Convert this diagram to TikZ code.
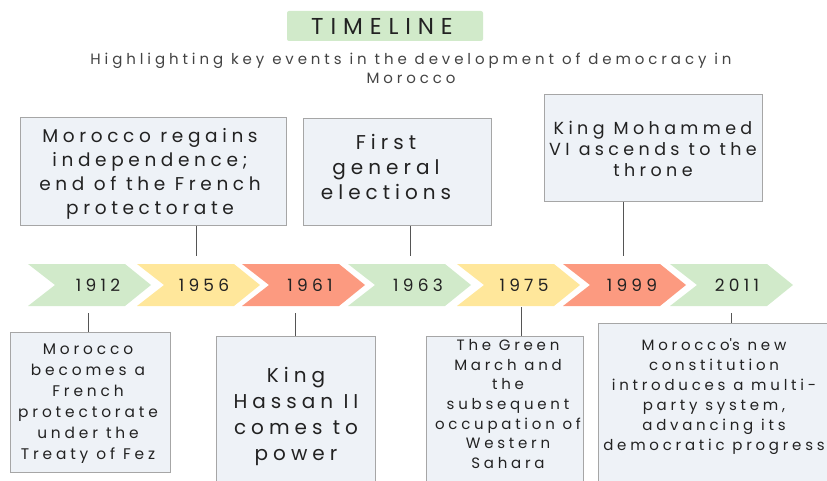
\documentclass[tikz,border=0pt]{standalone}
\usepackage{fontspec}
\setmainfont{Poppins}[LetterSpace=25]
\definecolor{cgreen}{HTML}{D1EACA}
\definecolor{cyellow}{HTML}{FFE79B}
\definecolor{csalmon}{HTML}{FC9A80}
\definecolor{boxfill}{HTML}{EEF2F7}
\definecolor{boxline}{HTML}{A6A6A6}
\definecolor{ink}{HTML}{222222}
\definecolor{connc}{HTML}{555555}
\newcommand\chevron[2]{\fill[#2] (#1,264) -- ++(97,0) -- ++(26,21) -- ++(-26,21) -- ++(-97,0) -- ++(27,-21) -- cycle;}
\newcommand\fs[2]{\fontsize{#1}{#2}\selectfont}
\begin{document}
\begin{tikzpicture}[x=1pt,y=-1pt,
  eventbox/.style={draw=boxline, fill=boxfill, line width=0.8pt, inner sep=0pt, anchor=north west},
  txt/.style={align=center, text=ink, inner sep=0pt},
  conn/.style={draw=connc, line width=0.9pt},
  yr/.style={text=ink, inner sep=0pt, font=\fs{17}{20}}]
\useasboundingbox (0,0) rectangle (827,481);
\clip (0,0) rectangle (827,481);
% title
\node[fill=cgreen, rounded corners=2pt, minimum width=196, minimum height=30, inner sep=0pt] (title) at (385,26) {};
\node[txt, font=\fs{23}{26}\addfontfeatures{LetterSpace=30}] (titletext) at (382,26) {TIMELINE};
\node[txt, font=\fs{15}{19}\addfontfeatures{LetterSpace=26}, text=ink!85] (subtitle) at (411,68) {Highlighting key events in the development of democracy in\\Morocco};
% chevrons
\chevron{28}{cgreen}
\chevron{137}{cyellow}
\chevron{242}{csalmon}
\chevron{348}{cgreen}
\chevron{457}{cyellow}
\chevron{563}{csalmon}
\chevron{670}{cgreen}
\node[yr] (y1) at (98,285) {1912};
\node[yr] (y2) at (204,285) {1956};
\node[yr] (y3) at (310,285) {1961};
\node[yr] (y4) at (418,285) {1963};
\node[yr] (y5) at (524,285) {1975};
\node[yr] (y6) at (632,285) {1999};
\node[yr] (y7) at (737,285) {2011};
% top boxes
\node[eventbox, minimum width=266, minimum height=108] (bA) at (20,117) {};
\node[txt, font=\fs{18.5}{24}] (tA) at (150,173.5) {Morocco regains\\independence;\\end of the French\\protectorate};
\node[eventbox, minimum width=188, minimum height=107] (bB) at (303,118) {};
\node[txt, font=\fs{20}{25}] (tB) at (386,167) {First\\general\\elections};
\node[eventbox, minimum width=218, minimum height=107] (bC) at (544,94) {};
\node[txt, font=\fs{17.5}{21}] (tC) at (653,149) {King Mohammed\\VI ascends to the\\throne};
% bottom boxes
\node[eventbox, minimum width=160, minimum height=140] (bD) at (10,332) {};
\node[txt, font=\fs{15.4}{21}] (tD) at (88,404) {Morocco\\becomes a\\French\\protectorate\\under the\\Treaty of Fez};
\node[eventbox, minimum width=159, minimum height=170] (bE) at (216,336) {};
\node[txt, font=\fs{20}{25.7}] (tE) at (296,416.5) {King\\Hassan II\\comes to\\power};
\node[eventbox, minimum width=157, minimum height=170] (bF) at (426,336) {};
\node[txt, font=\fs{15}{19.7}] (tF) at (508,404) {The Green\\March and\\the\\subsequent\\occupation of\\Western\\Sahara};
\node[eventbox, minimum width=260, minimum height=190] (bG) at (598,323) {};
\node[txt, font=\fs{15}{19.9}] (tG) at (714,396.5) {Morocco\textquotesingle s new\\constitution\\introduces a multi-\\party system,\\advancing its\\democratic progress};
% connector ends
\coordinate (kA) at (196,256);
\coordinate (kB) at (410,256);
\coordinate (kC) at (623,256);
\coordinate (kD) at (88,313);
\coordinate (kE) at (295,313);
\coordinate (kF) at (521,307);
\coordinate (kG) at (731,313);
\draw[conn] (bA.south -| kA) -- (kA);
\draw[conn] (bB.south -| kB) -- (kB);
\draw[conn] (bC.south -| kC) -- (kC);
\draw[conn] (kD) -- (bD.north -| kD);
\draw[conn] (kE) -- (bE.north -| kE);
\draw[conn] (kF) -- (bF.north -| kF);
\draw[conn] (kG) -- (bG.north -| kG);
\end{tikzpicture}
\end{document}
